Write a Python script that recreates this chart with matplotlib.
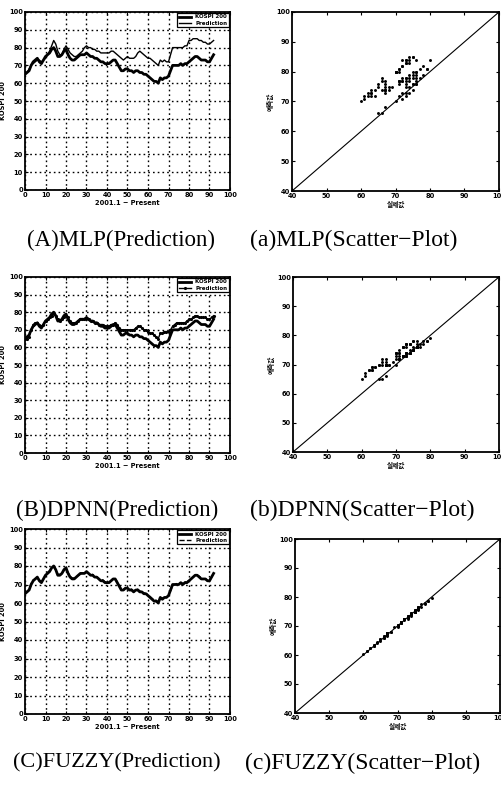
import matplotlib
matplotlib.use("Agg")
import matplotlib.pyplot as plt

plt.rcParams['font.family'] = ['DejaVu Sans', 'Noto Sans CJK KR']

# ---------------- data ----------------
days = list(range(93))

kospi200 = [65, 66, 67, 70, 72, 73, 74, 72, 71, 73, 75, 76, 77, 79, 80, 78, 75, 75, 76, 78,
            79, 76, 74, 73, 73, 74, 75, 76, 76, 76, 77, 76, 75, 75, 74, 74, 73, 72, 72, 71,
            71, 71, 72, 73, 73, 71, 69, 67, 67, 68, 68, 67, 67, 66, 67, 67, 66, 66, 65, 65,
            64, 63, 62, 61, 61, 60, 63, 62, 63, 63, 64, 67, 70, 70, 70, 70, 71, 70, 71, 71,
            72, 73, 74, 75, 75, 74, 73, 73, 73, 72, 72, 74, 76]

pred_mlp = [66, 66, 68, 70, 71, 72, 73, 73, 72, 73, 74, 76, 78, 81, 84, 82, 78, 76, 76, 79,
            81, 79, 77, 76, 75, 75, 76, 77, 78, 80, 81, 80, 80, 79, 79, 78, 78, 77, 77, 77,
            77, 77, 78, 78, 77, 76, 75, 74, 73, 74, 75, 74, 74, 74, 75, 77, 78, 77, 76, 75,
            74, 74, 73, 72, 71, 70, 73, 72, 73, 72, 72, 76, 80, 80, 80, 80, 80, 80, 81, 81,
            84, 84, 85, 85, 85, 84, 84, 83, 83, 82, 82, 83, 84]

pred_dpnn = [65, 65, 66, 70, 73, 74, 74, 73, 72, 73, 75, 76, 77, 78, 79, 78, 76, 75, 76, 77,
             78, 77, 75, 74, 74, 74, 75, 76, 76, 76, 76, 76, 75, 75, 74, 74, 73, 73, 73, 72,
             72, 72, 73, 73, 74, 73, 71, 70, 70, 70, 70, 70, 70, 70, 71, 72, 72, 71, 70, 70,
             69, 68, 68, 67, 66, 65, 68, 68, 69, 69, 69, 70, 72, 73, 74, 74, 74, 74, 74, 75,
             76, 76, 77, 78, 78, 77, 77, 77, 77, 76, 76, 77, 78]

pred_fuzzy = [65.5, 66, 67.5, 70.5, 72.5, 73, 73.5, 72.5, 71.5, 73, 75, 76.5, 77.5, 78.5, 79.5,
              78, 75.5, 75.5, 76, 77.5, 78.5, 76.5, 74.5, 73.5, 73.5, 74, 75, 75.5, 76.5, 76,
              76.5, 76, 75, 75.5, 74.5, 74, 73, 72.5, 72.5, 71.5, 71.5, 71, 72, 72.5, 73,
              71.5, 69.5, 67.5, 67.5, 68, 68, 67.5, 67.5, 66.5, 67, 67.5, 66.5, 66, 65.5, 65,
              64.5, 63.5, 62.5, 61.5, 61.5, 60.5, 63, 62.5, 63.5, 63, 64, 66.5, 69.5, 70,
              70.5, 70, 71, 70.5, 71.5, 71, 72.5, 73, 74, 75, 75, 74.5, 73.5, 73, 73, 72.5,
              72.5, 74, 76]

line_titles = ["(A)MLP(Prediction)", "(B)DPNN(Prediction)", "(C)FUZZY(Prediction)"]
scatter_titles = ["(a)MLP(Scatter\u2212Plot)", "(b)DPNN(Scatter\u2212Plot)",
                  "(c)FUZZY(Scatter\u2212Plot)"]
legend_labels = ["KOSPI 200", "Prediction"]
line_xlabel = "2001.1 ~ Present"
line_ylabel = "KOSPI 200"
scatter_xlabel = "실제값"
scatter_ylabel = "예측값"
line_ticks = [0, 10, 20, 30, 40, 50, 60, 70, 80, 90, 100]
scatter_ticks = [40, 50, 60, 70, 80, 90, 100]
diag = [40, 100]

preds = [pred_mlp, pred_dpnn, pred_fuzzy]

# ---------------- layout ----------------
W, H = 502, 787
fig = plt.figure(figsize=(W / 100, H / 100), dpi=100)

def box(l, t, r, b):
    return [l / W, 1 - b / H, (r - l) / W, (b - t) / H]

line_boxes = [box(25, 12, 230, 190), box(25, 277, 230, 453), box(25, 529, 230, 714)]
scat_boxes = [box(292, 12, 499, 191), box(293, 277, 499, 452), box(295, 539, 500, 713)]
title_y = [240, 510, 763]
title_x_line = [121, 117, 117]
title_x_scat = [250, 250, 245]
line_title_size = [16.5, 16.5, 16]
pred_styles = [dict(ls='-', lw=1.0), dict(ls='-', lw=1.0, marker='.', ms=2.5),
               dict(ls='--', lw=1.0)]

tick_font = dict(fontsize=4.8, fontweight='bold')

for i in range(3):
    ax = fig.add_axes(line_boxes[i])
    ax.plot(days, kospi200, color='black', lw=2.0, label=legend_labels[0])
    ax.plot(days, preds[i], color='black', label=legend_labels[1], **pred_styles[i])
    ax.set_xlim(0, 100)
    ax.set_ylim(0, 100)
    ax.set_xticks(line_ticks)
    ax.set_yticks(line_ticks)
    ax.set_xticklabels([str(t) for t in line_ticks], **tick_font)
    ax.set_yticklabels([str(t) for t in line_ticks], **tick_font)
    ax.tick_params(direction='in', length=2, width=0.8, pad=1.5, top=True, right=True)
    ax.grid(True, color='black', ls=(0, (1.2, 2.2)), lw=1.0)
    for s in ax.spines.values():
        s.set_linewidth(1.3)
    ax.set_xlabel(line_xlabel, fontsize=4.8, fontweight='bold', labelpad=1.5)
    ax.set_ylabel(line_ylabel, fontsize=4.8, fontweight='bold', labelpad=2)
    leg = ax.legend(loc='upper right', frameon=True, fancybox=False,
                    borderpad=0.3, handlelength=2.2, labelspacing=0.2,
                    borderaxespad=0.15, prop=dict(size=4, weight='bold'))
    leg.get_frame().set_edgecolor('black')
    leg.get_frame().set_linewidth(0.9)
    leg.get_frame().set_alpha(1)

    sx = fig.add_axes(scat_boxes[i])
    sx.plot(diag, diag, color='black', lw=0.8)
    sx.scatter(kospi200, preds[i], s=4.5, color='black', linewidths=0)
    sx.set_xlim(40, 100)
    sx.set_ylim(40, 100)
    sx.set_xticks(scatter_ticks)
    sx.set_yticks(scatter_ticks)
    sx.set_xticklabels([str(t) for t in scatter_ticks], **tick_font)
    sx.set_yticklabels([str(t) for t in scatter_ticks], **tick_font)
    sx.tick_params(direction='in', length=2, width=0.8, pad=1.5, top=True, right=True)
    for s in sx.spines.values():
        s.set_linewidth(1.3)
    sx.set_xlabel(scatter_xlabel, fontsize=4.8, fontweight='bold', labelpad=1.5,
                  family=['Noto Sans CJK KR', 'DejaVu Sans'])
    sx.set_ylabel(scatter_ylabel, fontsize=4.8, fontweight='bold', labelpad=2,
                  family=['Noto Sans CJK KR', 'DejaVu Sans'])

    fig.text(title_x_line[i] / W, 1 - title_y[i] / H, line_titles[i], ha='center',
             va='center', fontsize=line_title_size[i], family='Liberation Serif')
    fig.text(title_x_scat[i] / W, 1 - title_y[i] / H, scatter_titles[i], ha='left',
             va='center', fontsize=17, family='Liberation Serif')

fig.savefig("out.png", dpi=100)
